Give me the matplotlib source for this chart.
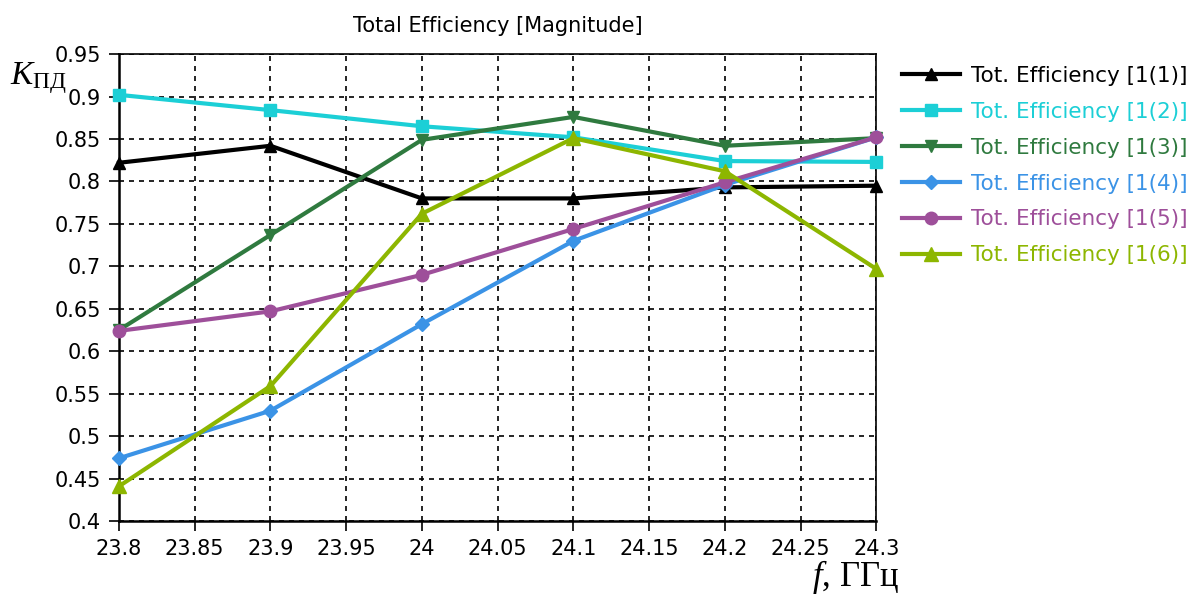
#!/usr/bin/env python
# -*- coding: utf-8 -*-
"""
Total efficiency vs frequency for six antenna ports.
"""

import matplotlib
matplotlib.use('Agg')
import matplotlib.pyplot as plt
from matplotlib.ticker import MultipleLocator

plt.rcParams['font.family'] = ['DejaVu Sans']
plt.rcParams['mathtext.fontset'] = 'custom'
plt.rcParams['mathtext.rm'] = 'Liberation Serif'
plt.rcParams['mathtext.it'] = 'Liberation Serif:italic'

# Data
freq = [23.8, 23.9, 24.0, 24.1, 24.2, 24.3]
eff_1_1 = [0.822, 0.842, 0.780, 0.780, 0.793, 0.795]
eff_1_2 = [0.902, 0.884, 0.865, 0.852, 0.824, 0.823]
eff_1_3 = [0.625, 0.737, 0.849, 0.876, 0.842, 0.851]
eff_1_4 = [0.474, 0.530, 0.632, 0.730, 0.796, 0.852]
eff_1_5 = [0.624, 0.647, 0.690, 0.744, 0.799, 0.852]
eff_1_6 = [0.441, 0.559, 0.762, 0.851, 0.812, 0.697]

labels = [f'Tot. Efficiency [1({i})]' for i in range(1, 7)]
series = [eff_1_1, eff_1_2, eff_1_3, eff_1_4, eff_1_5, eff_1_6]
colors = ['#000000', '#1ccfd6', '#2f7a3f', '#3b93e6', '#9e4f9a', '#8db600']
markers = ['^', 's', 'v', 'D', 'o', '^']
msizes = [9, 9, 9, 7, 9, 10]

fig = plt.figure(figsize=(12.02, 6.01), dpi=100)
ax = fig.add_axes([0.099, 0.133, 0.63, 0.777])

for y, lab, c, m, ms in zip(series, labels, colors, markers, msizes):
    ax.plot(freq, y, color=c, marker=m, markersize=ms, linewidth=3,
            label=lab, clip_on=False, zorder=3)

ax.set_xlim(23.8, 24.3)
ax.set_ylim(0.4, 0.95)
ax.xaxis.set_major_locator(MultipleLocator(0.05))
ax.yaxis.set_major_locator(MultipleLocator(0.05))
ax.xaxis.set_major_formatter(plt.FuncFormatter(lambda v, p: f'{v:.2f}'.rstrip('0').rstrip('.')))
ax.yaxis.set_major_formatter(plt.FuncFormatter(lambda v, p: f'{v:.2f}'.rstrip('0').rstrip('.')))
ax.tick_params(labelsize=15, length=7, width=1.2, direction='out', pad=6)
ax.grid(True, color='black', linestyle=(0, (3, 3)), linewidth=1.2)
for side in ['left', 'bottom']:
    ax.spines[side].set_linewidth(1.8)
for side in ['top', 'right']:
    ax.spines[side].set_linewidth(1.2)

ax.set_title('Total Efficiency [Magnitude]', fontsize=15, pad=16)

leg = ax.legend(loc='upper left', bbox_to_anchor=(1.034, 0.975), frameon=False,
                fontsize=15.5, handlelength=2.7, handletextpad=0.5,
                labelspacing=0.74, labelcolor='linecolor', borderaxespad=0,
                borderpad=0)

fig.text(0.008, 0.86, r'$K_{\mathrm{ПД}}$', fontsize=24)
fig.text(0.748, 0.025, r'$f$, ГГц', fontsize=25, family='Liberation Serif',
         ha='right')

fig.savefig('out.png', dpi=100)
